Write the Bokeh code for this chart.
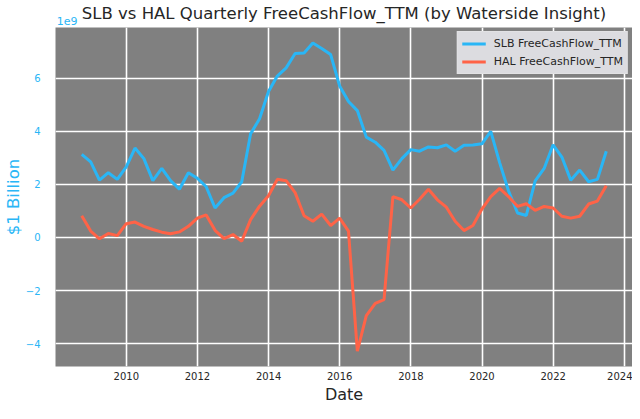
import pandas as pd
from bokeh.plotting import figure
from bokeh.models import (Range1d, FixedTicker, DatetimeTickFormatter, LinearAxis,
                          CustomJSTickFormatter, Title)
from bokeh.embed import file_html
from bokeh.resources import INLINE

# quarterly periods (Q3 2008 .. Q2 2023)
quarters = pd.period_range("2008Q3", "2023Q2", freq="Q")
dates = quarters.end_time.normalize()

# Free cash flow TTM, in billions of USD
slb_fcf = [3.13, 2.85, 2.16, 2.44, 2.19, 2.66, 3.37, 2.97, 2.14, 2.60,
           2.14, 1.82, 2.44, 2.23, 1.91, 1.11, 1.50, 1.67, 2.10, 3.91,
           4.47, 5.50, 6.08, 6.39, 6.93, 6.95, 7.33, 7.12, 6.89, 5.71,
           5.12, 4.78, 3.78, 3.59, 3.28, 2.54, 2.97, 3.31, 3.25, 3.41,
           3.38, 3.49, 3.25, 3.47, 3.48, 3.53, 4.00, 2.82, 1.75, 0.92,
           0.83, 2.13, 2.60, 3.49, 3.03, 2.16, 2.54, 2.10, 2.19, 3.25]
hal_fcf = [0.82, 0.24, -0.05, 0.15, 0.07, 0.52, 0.58, 0.42, 0.30, 0.20,
           0.14, 0.21, 0.42, 0.73, 0.85, 0.27, -0.04, 0.11, -0.14, 0.67,
           1.18, 1.57, 2.19, 2.14, 1.69, 0.82, 0.61, 0.88, 0.45, 0.73,
           0.24, -4.28, -2.94, -2.48, -2.34, 1.54, 1.42, 1.11, 1.44, 1.82,
           1.42, 1.14, 0.61, 0.26, 0.45, 1.07, 1.54, 1.85, 1.54, 1.17,
           1.27, 1.02, 1.17, 1.11, 0.80, 0.73, 0.80, 1.26, 1.37, 1.95]

x_tick_years = [2010, 2012, 2014, 2016, 2018, 2020, 2022, 2024]
y_ticks = [-4, -2, 0, 2, 4, 6]
y_tick_labels = ["\u22124", "\u22122", "0", "2", "4", "6"]

title_text = "SLB vs HAL Quarterly FreeCashFlow_TTM (by Waterside Insight)"
x_label = "Date"
y_label = "$1 Billion"
offset_text = "1e9"
slb_label = "SLB FreeCashFlow_TTM"
hal_label = "HAL FreeCashFlow_TTM"

BLUE = "#29b6f6"
RED = "#ff6347"
DARK = "#262626"
FONT = "DejaVu Sans"

# ranges with 5% padding like matplotlib
xs, xe = dates[0], dates[-1]
xspan = xe - xs
x_start = xs - 0.05 * xspan
x_end = xe + 0.05 * xspan
allv = slb_fcf + hal_fcf
ymin, ymax = min(allv), max(allv)
yspan = ymax - ymin
y_start = ymin - 0.05 * yspan
y_end = ymax + 0.05 * yspan

p = figure(width=632, height=403, x_axis_type="datetime",
           output_backend="svg", toolbar_location=None,
           x_range=Range1d(x_start, x_end),
           y_range=Range1d(y_start, y_end),
           min_border=0, title=None)

p.background_fill_color = "#808080"
p.border_fill_color = "white"
p.outline_line_color = None

p.line(dates, slb_fcf, line_color=BLUE, line_width=3, legend_label=slb_label)
p.line(dates, hal_fcf, line_color=RED, line_width=3, legend_label=hal_label)

# bottom axis
xa = p.xaxis[0]
xa.ticker = FixedTicker(ticks=[pd.Timestamp(f"{y}-01-01").value / 1e6 for y in x_tick_years])
xa.formatter = DatetimeTickFormatter(years="%Y", months="%Y", days="%Y", hours="%Y")

# left axis
ya = p.yaxis[0]
ya.ticker = FixedTicker(ticks=y_ticks)
ya.major_label_overrides = {t: s for t, s in zip(y_ticks, y_tick_labels)}
ya.axis_label = y_label

# top axis: carries the offset text "1e9" and the chart title
x_range_ms = (x_end - x_start).value / 1e6
offset_tick = x_start.value / 1e6 + 0.02 * x_range_ms
ta = LinearAxis(ticker=FixedTicker(ticks=[offset_tick]),
                formatter=CustomJSTickFormatter(code="return '%s'" % offset_text),
                axis_label=title_text)
p.add_layout(ta, "above")

for ax in (xa, ya, ta):
    ax.axis_line_color = None
    ax.major_tick_line_color = None
    ax.minor_tick_line_color = None
    ax.major_tick_out = 0
    ax.major_tick_in = 0
    ax.minor_tick_out = 0
    ax.minor_tick_in = 0
    ax.major_label_text_font = FONT
    ax.major_label_text_font_size = "10px"
    ax.axis_label_text_font = FONT
    ax.axis_label_text_font_size = "16.5px"
    ax.axis_label_text_font_style = "normal"

xa.major_label_text_color = DARK
xa.major_label_standoff = 5
ya.major_label_text_color = BLUE
ya.axis_label_text_color = BLUE
ya.major_label_standoff = 15
ya.axis_label_standoff = 0
ta.major_label_text_color = BLUE
ta.major_label_text_font_size = "11px"
ta.major_label_standoff = 3
ta.axis_label_text_color = DARK
ta.axis_label_standoff = -9

# x axis label as a bottom title
p.add_layout(Title(text=x_label, align="center", text_font=FONT, text_font_size="16px",
                   text_font_style="normal", text_color=DARK, standoff=0), "below")

p.grid.grid_line_color = "white"
p.grid.grid_line_width = 1.6
p.grid.grid_line_alpha = 1.0

lg = p.legend[0]
lg.location = "top_right"
lg.background_fill_color = "#dcdce0"
lg.background_fill_alpha = 1.0
lg.border_line_color = "#e8e8e8"
lg.label_text_font = FONT
lg.label_text_font_size = "11px"
lg.label_text_color = DARK
lg.glyph_width = 24
lg.glyph_height = 15
lg.label_height = 15
lg.spacing = 3
lg.padding = 4
lg.margin = 4
lg.label_standoff = 8

open("out.html", "w").write(file_html(p, INLINE))
